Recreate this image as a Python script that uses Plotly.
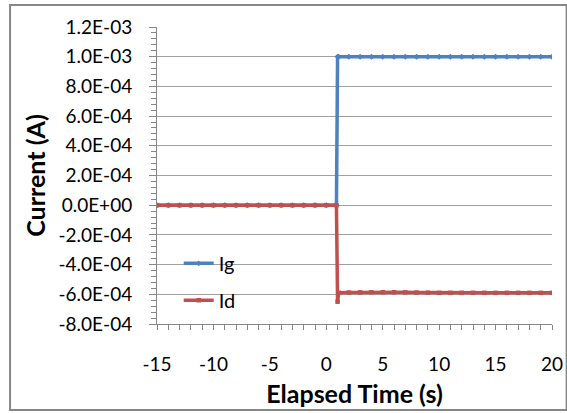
import plotly.graph_objects as go

# ---- data ----
time_s = [-15, -14, -13, -12, -11, -10, -9, -8, -7, -6, -5, -4, -3, -2, -1, 0,
          0.9, 1.0, 1.1, 2, 3, 4, 5, 6, 7, 8, 9, 10, 11, 12, 13, 14, 15, 16, 17, 18, 19, 20]
ig = [0.0, 0.0, 0.0, 0.0, 0.0, 0.0, 0.0, 0.0, 0.0, 0.0, 0.0, 0.0, 0.0, 0.0, 0.0, 0.0,
      0.0, 1.0e-3, 1.0e-3, 1.0e-3, 1.0e-3, 1.0e-3, 1.0e-3, 1.0e-3, 1.0e-3, 1.0e-3, 1.0e-3,
      1.0e-3, 1.0e-3, 1.0e-3, 1.0e-3, 1.0e-3, 1.0e-3, 1.0e-3, 1.0e-3, 1.0e-3, 1.0e-3, 1.0e-3]
id_ = [0.0, 0.0, 0.0, 0.0, 0.0, 0.0, 0.0, 0.0, 0.0, 0.0, 0.0, 0.0, 0.0, 0.0, 0.0, 0.0,
       0.0, -6.5e-4, -5.9e-4, -5.88e-4, -5.87e-4, -5.86e-4, -5.86e-4, -5.86e-4, -5.87e-4,
       -5.88e-4, -5.89e-4, -5.9e-4, -5.9e-4, -5.9e-4, -5.9e-4, -5.9e-4, -5.9e-4, -5.9e-4,
       -5.9e-4, -5.9e-4, -5.9e-4, -5.9e-4]

y_tickvals = [1.2e-3, 1.0e-3, 8e-4, 6e-4, 4e-4, 2e-4, 0.0, -2e-4, -4e-4, -6e-4, -8e-4]
y_ticktext = ["1.2E-03", "1.0E-03", "8.0E-04", "6.0E-04", "4.0E-04", "2.0E-04",
              "0.0E+00", "-2.0E-04", "-4.0E-04", "-6.0E-04", "-8.0E-04"]
x_tickvals = [-15, -10, -5, 0, 5, 10, 15, 20]
x_ticktext = ["-15", "-10", "-5", "0", "5", "10", "15", "20"]

BLUE = "#4F81BD"
RED = "#C0504D"
FONT = "Lato"

fig = go.Figure()
fig.add_trace(go.Scatter(
    x=time_s, y=ig, name="Ig", mode="lines+markers", legendgroup="g1",
    line=dict(color=BLUE, width=3.5),
    marker=dict(symbol="diamond", size=4.5, color=BLUE),
))
fig.add_trace(go.Scatter(
    x=time_s, y=id_, name="Id", mode="lines+markers", legendgroup="g2",
    line=dict(color=RED, width=3.5),
    marker=dict(symbol="square", size=4.5, color=RED),
))

axis_grey = "#868686"
fig.update_layout(
    width=567, height=413,
    margin=dict(l=157, r=15, t=27, b=89),
    paper_bgcolor="white", plot_bgcolor="white",
    font=dict(family=FONT, size=19, color="#000000"),
    showlegend=True,
    legend=dict(
        x=0.055, y=0.27, xanchor="left", yanchor="top",
        bgcolor="rgba(0,0,0,0)", traceorder="grouped", tracegroupgap=8,
        font=dict(family=FONT, size=20),
    ),
    xaxis=dict(
        range=[-15, 20], tickvals=x_tickvals, ticktext=x_ticktext,
        showgrid=False, zeroline=False, automargin=False,
        showline=True, linecolor=axis_grey, linewidth=1,
        ticks="outside", ticklen=5, tickcolor=axis_grey, ticklabelstandoff=18,
        minor=dict(dtick=1, ticks="outside", ticklen=5, tickcolor=axis_grey),
        title=dict(text="<b>Elapsed Time (s)</b>", font=dict(family=FONT, size=25), standoff=11),
        tickfont=dict(family=FONT, size=19),
    ),
    yaxis=dict(
        range=[-8e-4, 1.2e-3], tickvals=y_tickvals, ticktext=y_ticktext,
        showgrid=True, gridcolor="#A0A0A0", gridwidth=1, zeroline=False, automargin=False,
        showline=True, linecolor=axis_grey, linewidth=1,
        ticks="outside", ticklen=7, tickcolor=axis_grey, ticklabelstandoff=13,
        minor=dict(dtick=4e-5, tick0=0, ticks="outside", ticklen=5, tickcolor=axis_grey, showgrid=False),
        title=dict(text="<b>Current (A)</b>", font=dict(family=FONT, size=25), standoff=5),
        tickfont=dict(family=FONT, size=19),
    ),
    shapes=[dict(
        type="rect", xref="paper", yref="paper",
        x0=-0.372, x1=1.037, y0=-0.2896, y1=1.074,
        line=dict(color="#878787", width=2), fillcolor="rgba(0,0,0,0)", layer="below",
    )],
)

fig.write_html("out.html")
